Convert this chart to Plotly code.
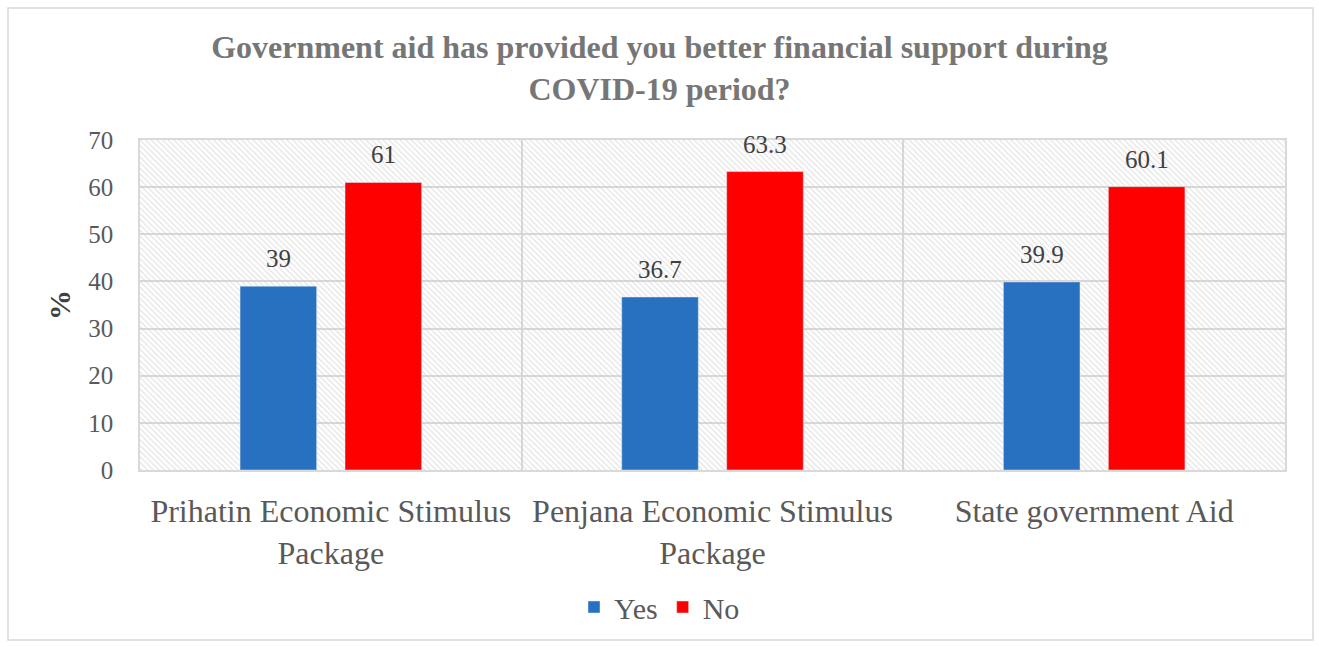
import plotly.graph_objects as go

categories = ["Prihatin Economic Stimulus<br>Package", "Penjana Economic Stimulus<br>Package", "State government Aid"]
yes_values = [39, 36.7, 39.9]
no_values = [61, 63.3, 60.1]
y_max = 70
y_ticks = [0, 10, 20, 30, 40, 50, 60, 70]

FONT = "Liberation Serif, Times New Roman, serif"
TXT = "#595959"
BARGAP = 0.45
BARGROUPGAP = 0.27

fig = go.Figure()

# hatched plot-area background
fig.add_trace(go.Bar(
    x=[0.5], y=[y_max], width=[1], xaxis="x", yaxis="y",
    marker=dict(color="rgba(0,0,0,0)", line=dict(width=0),
                pattern=dict(shape="\\", fgcolor="#c8c8c8", bgcolor="rgba(0,0,0,0)",
                             size=4, solidity=0.3)),
    hoverinfo="skip", showlegend=False))

fig.add_trace(go.Bar(
    name="Yes", x=categories, y=yes_values, xaxis="x2", yaxis="y",
    marker=dict(color="#2870c0")))
fig.add_trace(go.Bar(
    name="No", x=categories, y=no_values, xaxis="x2", yaxis="y",
    marker=dict(color="#ff0000")))

# value labels above the bars (positioned through the category axis)
slot = (1 - BARGAP) / 2
annotations = []
for series_idx, values in enumerate([yes_values, no_values]):
    offset = (series_idx - 0.5) * slot
    for i, v in enumerate(values):
        annotations.append(dict(
            x=i + offset, y=v, xref="x2", yref="y", text=str(v), showarrow=False,
            yanchor="bottom", yshift=12,
            font=dict(family=FONT, size=25, color="#404040")))

fig.update_layout(
    width=1319, height=647,
    margin=dict(l=140, r=34, t=140, b=177),
    paper_bgcolor="white", plot_bgcolor="white",
    barmode="group", bargap=BARGAP, bargroupgap=BARGROUPGAP,
    font=dict(family=FONT, color=TXT),
    title=dict(text="Government aid has provided you better financial support during<br>COVID-19 period?",
               x=0.5, xanchor="center", y=1 - 58 / 647, yanchor="middle",
               font=dict(family=FONT, size=32, color="#767676", weight="bold")),
    xaxis=dict(range=[0, 1], visible=False, showgrid=False, fixedrange=True),
    xaxis2=dict(overlaying="x", anchor="y", type="category", tickson="boundaries",
                showgrid=True, gridcolor="#d9d9d9", gridwidth=1.5,
                showline=True, linecolor="#d9d9d9", linewidth=1.5, mirror=True,
                ticks="", ticklabelstandoff=12,
                tickfont=dict(family=FONT, size=32, color=TXT)),
    yaxis=dict(range=[0, y_max], tickvals=y_ticks, showgrid=True, gridcolor="#d9d9d9",
               gridwidth=1.5, showline=True, linecolor="#d9d9d9", linewidth=1.5, mirror=True,
               zeroline=False, ticks="", ticklabelstandoff=20,
               tickfont=dict(family=FONT, size=25, color=TXT),
               title=dict(text="<b>%</b>", font=dict(family=FONT, size=30, color="#404040"), standoff=9)),
    legend=dict(orientation="h", x=(659.5 - 140) / 1145, xanchor="center", y=-137 / 330, yanchor="middle",
                font=dict(family=FONT, size=30, color=TXT), itemwidth=30,
                traceorder="normal"),
    annotations=annotations,
    shapes=[dict(type="rect", xref="paper", yref="paper", x0=-132 / 1145, x1=1 + 28 / 1145,
                 y0=-170 / 330, y1=1 + 132 / 330, line=dict(color="#d9d9d9", width=1.5),
                 fillcolor="rgba(0,0,0,0)", layer="below")],
)

fig.write_html("out.html")
